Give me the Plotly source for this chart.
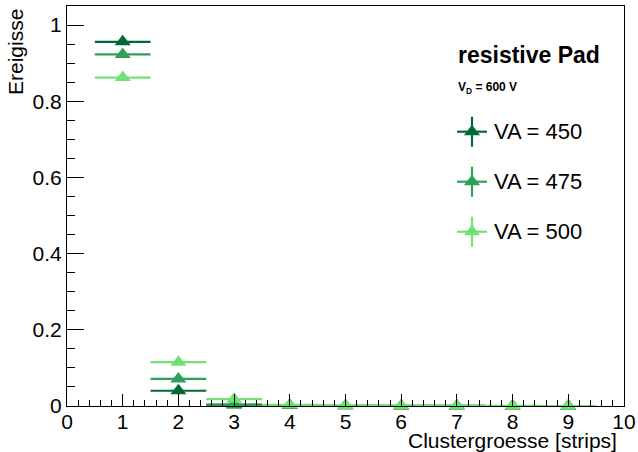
import plotly.graph_objects as go

# ---- data ----
cluster_size = [1, 2, 3, 4, 5, 6, 7, 8, 9]
x_half_width = [0.5] * 9
va450 = [0.956, 0.040, 0.004, 0.001, 0.0005, 0.0002, 0.0001, 0.0, 0.0]
va475 = [0.923, 0.071, 0.002, 0.001, 0.0005, 0.0002, 0.0001, 0.0, 0.0]
va500 = [0.862, 0.115, 0.018, 0.003, 0.001, 0.0005, 0.0002, 0.0001, 0.0]
series_names = ["VA = 450", "VA = 475", "VA = 500"]
series_values = [va450, va475, va500]
colors = ["#006a36", "#2ea156", "#74e074"]
x_ticks = list(range(0, 11))
y_ticks = [0, 0.2, 0.4, 0.6, 0.8, 1.0]

FONT = "Liberation Sans, Arial, Helvetica, sans-serif"

fig = go.Figure()
for name, vals, col in zip(series_names, series_values, colors):
    fig.add_trace(go.Scatter(
        x=cluster_size, y=vals, mode="markers", name=name,
        marker=dict(symbol="triangle-up", size=14, color=col),
        error_x=dict(type="data", array=x_half_width, symmetric=True,
                     color=col, thickness=2.2, width=0),
        cliponaxis=False, showlegend=False, hoverinfo="skip",
    ))

# ---- legend (drawn manually, ROOT style) ----
W, H = 557.0, 400.0
def px(xp):
    return (xp - 67) / W
def py(yp):
    return (406 - yp) / H

leg_cx = px(472)
leg_centers = [py(131.7), py(181.7), py(231.7)]
shapes = []
for cy, col in zip(leg_centers, colors):
    shapes.append(dict(type="line", xref="paper", yref="paper",
                       x0=leg_cx - 15 / W, x1=leg_cx + 15 / W, y0=cy, y1=cy,
                       line=dict(color=col, width=2.2)))
    shapes.append(dict(type="line", xref="paper", yref="paper",
                       x0=leg_cx, x1=leg_cx, y0=cy - 15 / H, y1=cy + 15 / H,
                       line=dict(color=col, width=2.2)))
fig.add_trace(go.Scatter(
    x=[leg_cx] * 3, y=leg_centers, mode="markers", xaxis="x2", yaxis="y2",
    marker=dict(symbol="triangle-up", size=14, color=colors),
    showlegend=False, hoverinfo="skip", cliponaxis=False,
))

annotations = [
    dict(text="<b>resistive Pad</b>", xref="paper", yref="paper", x=px(456), y=py(55),
         xanchor="left", yanchor="middle", showarrow=False,
         font=dict(family=FONT, size=23, color="black")),
    dict(text="<b>V<sub>D</sub> = 600 V</b>", xref="paper", yref="paper", x=px(456), y=py(88),
         xanchor="left", yanchor="middle", showarrow=False,
         font=dict(family=FONT, size=12, color="black")),
    dict(text="Clustergroesse [strips]", xref="paper", yref="paper", x=px(619), y=py(441),
         xanchor="right", yanchor="middle", showarrow=False,
         font=dict(family=FONT, size=21, color="black")),
    dict(text="Ereigisse", xref="paper", yref="paper", x=px(16), y=py(7),
         xanchor="center", yanchor="top", textangle=-90, showarrow=False,
         font=dict(family=FONT, size=21, color="black")),
]
for name, cy in zip(series_names, leg_centers):
    annotations.append(dict(text=name, xref="paper", yref="paper", x=px(492), y=cy,
                            xanchor="left", yanchor="middle", showarrow=False,
                            font=dict(family=FONT, size=22, color="black")))

fig.update_layout(
    width=638, height=452,
    margin=dict(l=67, r=14, t=6, b=46, pad=0, autoexpand=False),
    paper_bgcolor="white", plot_bgcolor="white",
    showlegend=False,
    font=dict(family=FONT, size=21, color="black"),
    xaxis=dict(range=[0, 10], tickvals=x_ticks, ticktext=[str(t) for t in x_ticks],
               ticks="inside", ticklen=12, tickwidth=1, tickcolor="black",
               minor=dict(dtick=0.2, ticks="inside", ticklen=6, tickcolor="black", tickwidth=1),
               showline=True, linecolor="black", linewidth=1, mirror=True,
               showgrid=False, zeroline=False, fixedrange=True, automargin=False,
               ticklabelstandoff=-3,
               tickfont=dict(family=FONT, size=21)),
    yaxis=dict(range=[0, 1.05], tickvals=y_ticks, ticktext=["0", "0.2", "0.4", "0.6", "0.8", "1"],
               ticks="inside", ticklen=17, tickwidth=1, tickcolor="black",
               minor=dict(dtick=0.05, ticks="inside", ticklen=8, tickcolor="black", tickwidth=1),
               showline=True, linecolor="black", linewidth=1, mirror=True,
               showgrid=False, zeroline=False, fixedrange=True, automargin=False,
               tickfont=dict(family=FONT, size=21)),
    xaxis2=dict(range=[0, 1], overlaying="x", visible=False, fixedrange=True, automargin=False),
    yaxis2=dict(range=[0, 1], overlaying="y", visible=False, fixedrange=True, automargin=False),
    shapes=shapes,
    annotations=annotations,
)

fig.write_html("out.html", config={"displayModeBar": False},
               post_script="document.body.style.margin='0';document.body.style.overflow='hidden';")
